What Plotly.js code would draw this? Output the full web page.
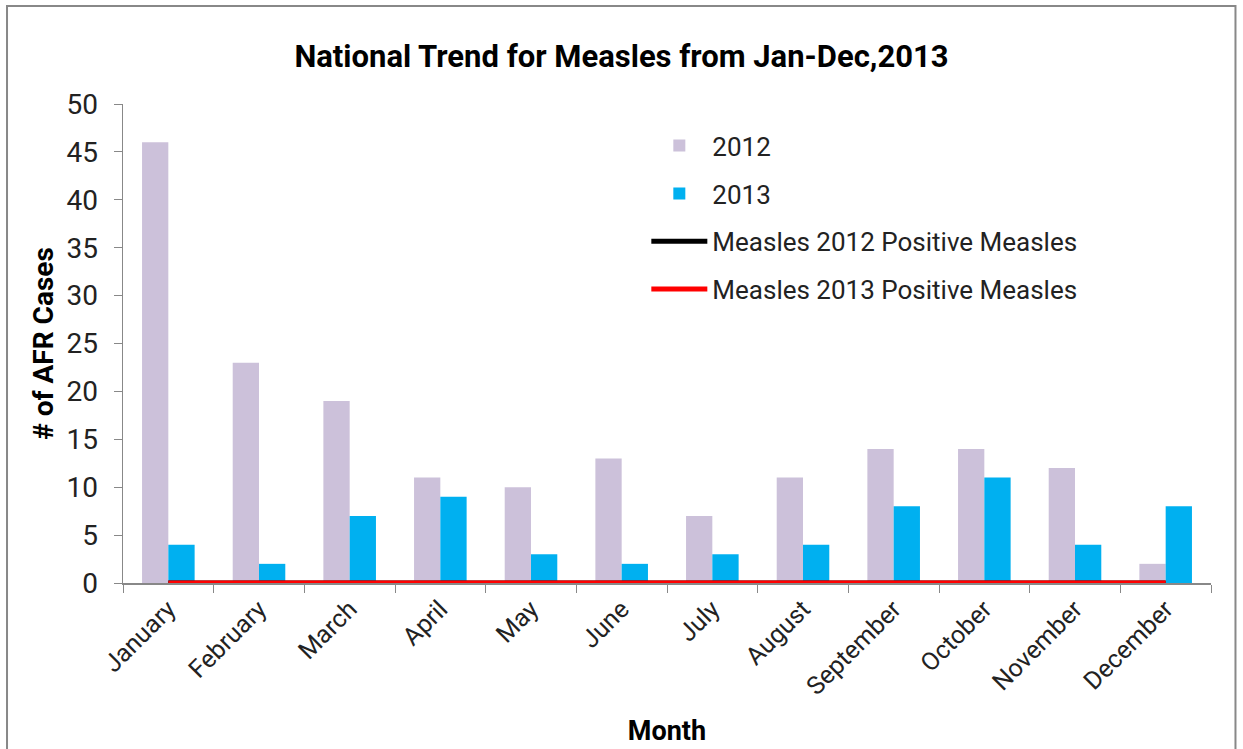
<!DOCTYPE html>
<html><head><meta charset="utf-8">
<script src="https://cdn.plot.ly/plotly-3.0.1.min.js"></script>
<style>html,body{margin:0;padding:0;background:#fff}#chart{width:1243px;height:749px}</style>
</head><body><div id="chart"></div>
<script>
const months = ["January","February","March","April","May","June","July","August","September","October","November","December"];
const cases2012 = [46,23,19,11,10,13,7,11,14,14,12,2];
const cases2013 = [4,2,7,9,3,2,3,4,8,11,4,8];
const positive2012 = [0,0,0,0,0,0,0,0,0,0,0,0];
const positive2013 = [0,0,0,0,0,0,0,0,0,0,0,0];
const yTicks = [0,5,10,15,20,25,30,35,40,45,50];

const FONT = "Roboto, sans-serif";
const traces = [
  {type:"bar", x:months, y:cases2012, name:"2012", legendgroup:"a", marker:{color:"#CCC1DA"}},
  {type:"bar", x:months, y:cases2013, name:"2013", legendgroup:"b", marker:{color:"#00B0F0"}},
  {type:"scatter", mode:"lines", x:months, y:positive2012, name:"Measles 2012 Positive Measles", legendgroup:"c", line:{color:"#000000", width:5}},
  {type:"scatter", mode:"lines", x:months, y:positive2013, name:"Measles 2013 Positive Measles", legendgroup:"d", line:{color:"#FF0000", width:5}}
];
const layout = {
  width:1243, height:749,
  margin:{l:123, r:32, t:104, b:166},
  paper_bgcolor:"#fff", plot_bgcolor:"#fff",
  font:{family:FONT, color:"#222"},
  title:{text:"<b>National Trend for Measles from Jan-Dec,2013</b>", x:0.5, xref:"container", xanchor:"center", y:0.925, yanchor:"middle", font:{size:31, color:"#000", family:FONT}},
  barmode:"group", bargap:0.42, bargroupgap:0,
  showlegend:true,
  legend:{x:0.481, y:0.962, xanchor:"left", yanchor:"top", font:{size:26, color:"#222"}, tracegroupgap:11, itemwidth:56, bgcolor:"rgba(0,0,0,0)"},
  xaxis:{type:"category", tickangle:-45, tickson:"boundaries", ticks:"outside", ticklen:8, tickcolor:"#888",
         showline:true, linecolor:"#888", linewidth:1.5, showgrid:false, tickfont:{size:25, color:"#222"},
         title:{text:"<b>Month</b>", font:{size:27, color:"#000"}, standoff:21}},
  yaxis:{range:[0,50], tickvals:yTicks, ticks:"outside", ticklen:8, tickcolor:"#888", showline:true, linecolor:"#888", linewidth:1.5,
         showgrid:false, zeroline:false, tickfont:{size:28, color:"#222"}, ticklabelstandoff:10,
         title:{text:"<b># of AFR Cases</b>", font:{size:28, color:"#000"}, standoff:4}},
  shapes:[{type:"rect", xref:"paper", yref:"paper", x0:-0.1066, x1:1.0225, y0:-0.36, y1:1.2046, line:{color:"#888", width:2}, fillcolor:"rgba(0,0,0,0)", layer:"below"}]
};
Plotly.newPlot("chart", traces, layout, {displayModeBar:false, staticPlot:true});
</script></body></html>
